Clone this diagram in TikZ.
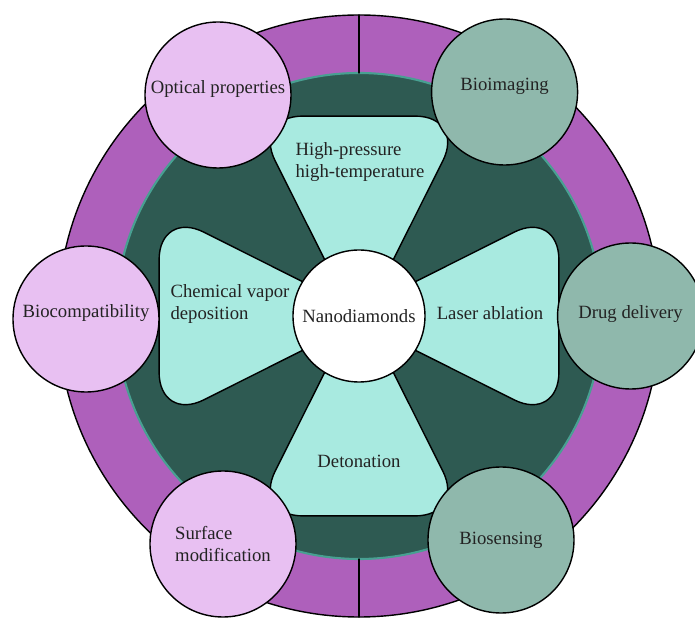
\documentclass[tikz,border=0pt]{standalone}
\usepackage{fontspec}
\setmainfont{Liberation Serif}
\usepackage{tkz-euclide}
\usetikzlibrary{calc}
\definecolor{RingClr}{RGB}{174,96,187}
\definecolor{CoreClr}{RGB}{46,90,82}
\definecolor{EdgeClr}{RGB}{72,160,146}
\definecolor{PetalClr}{RGB}{168,234,224}
\definecolor{PinkCirc}{RGB}{232,192,242}
\definecolor{GreenCirc}{RGB}{143,184,172}
\definecolor{TxtClr}{RGB}{35,35,35}

\begin{document}
\begin{tikzpicture}[
  every node/.style={font=\fontsize{13.3}{15.5}\selectfont,text=TxtClr},
  appl/.style={circle,draw=black,line width=1pt,minimum size=3.65cm,inner sep=0pt,align=center},
  lift/.style={text height=9.5pt,text depth=#1},
  petal/.style={fill=PetalClr,draw=black,line width=1pt,rounded corners=1.25cm}]
\useasboundingbox (-8.975,-7.55) rectangle (8.4,7.9);
\tkzDefPoints{0/0/O,0/7.525/A,0/6.075/B,0/-7.525/C,0/-6.075/D}

\tkzFillCircle[color=RingClr](O,A)
\tkzDrawCircle[line width=1pt,color=black](O,A)
\tkzFillCircle[color=CoreClr](O,B)
\tkzDrawCircle[line width=1.5pt,color=EdgeClr](O,B)
\tkzDrawSegment[line width=1pt,color=black](A,B)
\tkzDrawSegment[line width=1pt,color=black](C,D)

\foreach \a in {0,90,180,270}
  \draw[petal] (\a+180:0.3) -- (\a+28:5.66) -- (\a-28:5.66) -- cycle;

\node[circle,fill=white,draw=black,line width=1pt,minimum size=3.3cm,inner sep=0pt] (nano) at (O) {Nanodiamonds};
\node[align=left] (hpht) at (0.025,3.85) {High-pressure\\high-temperature};
\node[align=left] (cvd) at (-3.225,0.3) {Chemical vapor\\deposition};
\node (laser) at (3.275,0.075) {Laser ablation};
\node (deto) at (0,-3.625) {Detonation};

\node[appl,fill=PinkCirc,lift=12pt] (optic) at (-3.525,5.525) {Optical properties};
\node[appl,fill=PinkCirc,lift=11pt] (biocomp) at (-6.825,-0.075) {Biocompatibility};
\node[appl,fill=PinkCirc,align=left] (surf) at (-3.4,-5.7) {Surface\\modification};
\node[appl,fill=GreenCirc,lift=11pt] (bioimg) at (3.64,5.6) {Bioimaging};
\node[appl,fill=GreenCirc,lift=6pt] (drug) at (6.79,0) {Drug delivery};
\node[appl,fill=GreenCirc] (biosens) at (3.55,-5.6) {Biosensing};

\end{tikzpicture}
\end{document}
